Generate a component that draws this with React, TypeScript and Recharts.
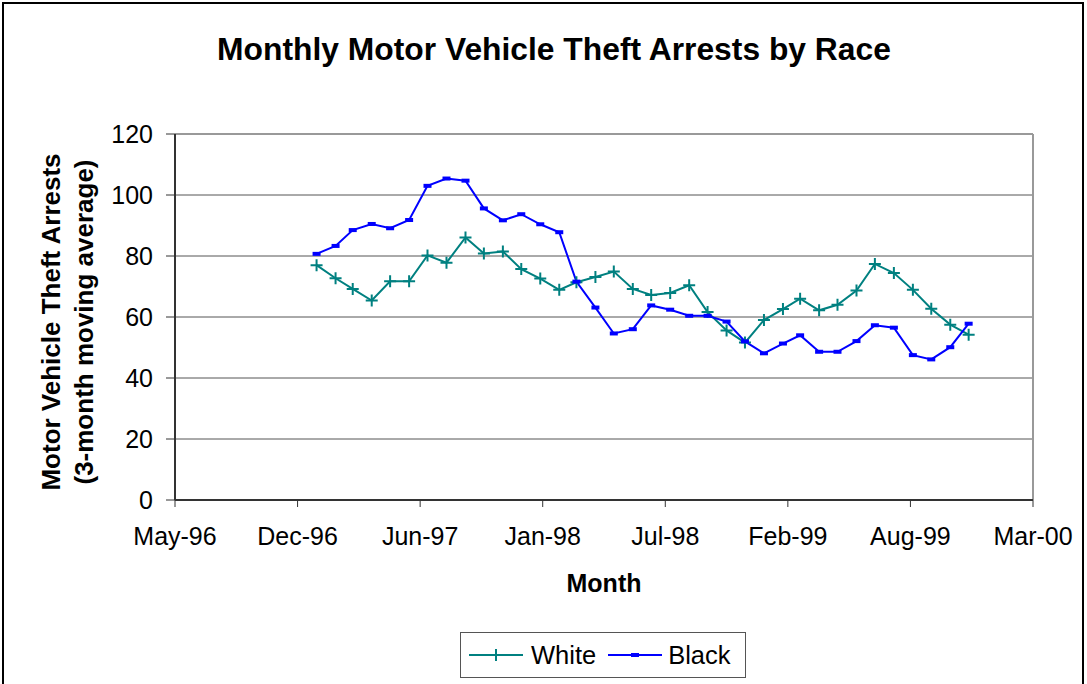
import { CartesianGrid, Legend, Line, LineChart, ReferenceLine, XAxis, YAxis } from "recharts";

// monthly points, 3-month moving average
const MONTHS = [
  "1997-01", "1997-02", "1997-03", "1997-04", "1997-05", "1997-06",
  "1997-07", "1997-08", "1997-09", "1997-10", "1997-11", "1997-12",
  "1998-01", "1998-02", "1998-03", "1998-04", "1998-05", "1998-06",
  "1998-07", "1998-08", "1998-09", "1998-10", "1998-11", "1998-12",
  "1999-01", "1999-02", "1999-03", "1999-04", "1999-05", "1999-06",
  "1999-07", "1999-08", "1999-09", "1999-10", "1999-11", "1999-12",
];

const WHITE = [
  77.0, 72.7, 69.2, 65.4, 71.7, 71.7, 80.2, 77.8, 86.1, 80.8, 81.5, 75.7,
  72.6, 68.9, 71.4, 73.1, 74.9, 69.2, 67.2, 67.9, 70.4, 61.6, 55.6, 51.6,
  59.0, 62.6, 66.0, 62.2, 64.0, 68.7, 77.4, 74.4, 68.9, 62.7, 57.5, 54.2,
];

const BLACK = [
  80.7, 83.3, 88.5, 90.5, 89.1, 91.8, 103.0, 105.4, 104.7, 95.6, 91.7, 93.7,
  90.4, 87.8, 71.6, 63.1, 54.6, 56.0, 63.8, 62.4, 60.4, 60.4, 58.5, 52.0,
  48.1, 51.3, 54.0, 48.6, 48.6, 52.1, 57.3, 56.5, 47.5, 46.1, 50.1, 57.8,
];

// excel date axis: 200-day major unit
const X_TICKS = [
  "1996-05-15", "1996-12-01", "1997-06-19", "1998-01-05",
  "1998-07-24", "1999-02-09", "1999-08-28", "2000-03-15",
];
const Y_TICKS = [0, 20, 40, 60, 80, 100, 120];
const MONTH_NAMES = ["Jan", "Feb", "Mar", "Apr", "May", "Jun", "Jul", "Aug", "Sep", "Oct", "Nov", "Dec"];

const FONT = '"Liberation Sans", Arial, sans-serif';
const TEAL = "#008080";
const BLUE = "#0000FF";

const toTime = (s: string) => {
  const [y, m, d] = s.split("-").map(Number);
  return Date.UTC(y, m - 1, d || 1);
};

const fmtMonth = (t: number) => {
  const dt = new Date(t);
  return `${MONTH_NAMES[dt.getUTCMonth()]}-${String(dt.getUTCFullYear()).slice(2)}`;
};

const data = MONTHS.map((m, i) => ({ t: toTime(m), white: WHITE[i], black: BLACK[i] }));
const xTicks = X_TICKS.map(toTime);
const xDomain = [xTicks[0], xTicks[xTicks.length - 1]];

function PlusDot(props: any) {
  const { cx, cy, index } = props;
  if (cx == null || cy == null) return <g key={`w${index}`} />;
  return (
    <path
      key={`w${index}`}
      d={`M${cx - 6},${cy}h12M${cx},${cy - 6}v12`}
      stroke={TEAL}
      strokeWidth={2}
      fill="none"
    />
  );
}

function DashDot(props: any) {
  const { cx, cy, index } = props;
  if (cx == null || cy == null) return <g key={`b${index}`} />;
  return <rect key={`b${index}`} x={cx - 4} y={cy - 2} width={8} height={4} fill={BLUE} />;
}

function YTitle(props: any) {
  const vb = props.viewBox || {};
  const cy = vb.y + vb.height / 2 + 5;
  return (
    <g fontFamily={FONT} fontWeight="bold" fontSize={26} fill="#000">
      <text x={60} y={cy} textAnchor="middle" transform={`rotate(-90, 60, ${cy})`}>
        Motor Vehicle Theft Arrests
      </text>
      <text x={93} y={cy} textAnchor="middle" transform={`rotate(-90, 93, ${cy})`}>
        (3-month moving average)
      </text>
    </g>
  );
}

function XTitle(props: any) {
  const vb = props.viewBox || {};
  return (
    <text
      x={vb.x + vb.width / 2}
      y={vb.y + 92}
      textAnchor="middle"
      fontFamily={FONT}
      fontWeight="bold"
      fontSize={25}
      fill="#000"
    >
      Month
    </text>
  );
}

function LegendBox() {
  return (
    <div
      style={{
        boxSizing: "border-box",
        width: 286,
        height: 46,
        border: "1px solid #555",
        background: "#fff",
        display: "flex",
        alignItems: "center",
        paddingLeft: 8,
        fontFamily: FONT,
        fontSize: 25.5,
        color: "#000",
      }}
    >
      <svg width={54} height={20}>
        <line x1={0} y1={10} x2={54} y2={10} stroke={TEAL} strokeWidth={2} />
        <path d="M27,4v12" stroke={TEAL} strokeWidth={2} />
      </svg>
      <span style={{ marginLeft: 8 }}>White</span>
      <svg width={54} height={20} style={{ marginLeft: 12 }}>
        <line x1={0} y1={10} x2={54} y2={10} stroke={BLUE} strokeWidth={2} />
        <rect x={23} y={8} width={8} height={4} fill={BLUE} />
      </svg>
      <span style={{ marginLeft: 6 }}>Black</span>
    </div>
  );
}

export default function App() {
  return (
    <div style={{ position: "relative", width: 1087, height: 684, overflow: "hidden", background: "#fff" }}>
      <style>{"body{margin:0}"}</style>
      <div
        style={{
          position: "absolute",
          left: 2,
          top: 2,
          width: 1082,
          height: 720,
          border: "2px solid #000",
          boxSizing: "border-box",
        }}
      />
      <div style={{ position: "absolute", left: 0, top: 0 }}>
        <LineChart
          width={1087}
          height={684}
          data={data}
          margin={{ top: 134, right: 54, bottom: 144, left: 0 }}
        >
          <text
            x={554}
            y={60}
            textAnchor="middle"
            fontFamily={FONT}
            fontWeight="bold"
            fontSize={31.8}
            fill="#000"
          >
            Monthly Motor Vehicle Theft Arrests by Race
          </text>
          <CartesianGrid vertical={false} stroke="#555" strokeWidth={1} />
          <XAxis
            type="number"
            dataKey="t"
            domain={xDomain}
            ticks={xTicks}
            interval={0}
            tickFormatter={fmtMonth}
            height={40}
            tickSize={7}
            tickMargin={20}
            tick={{ fontFamily: FONT, fontSize: 25, fill: "#000" }}
            axisLine={{ stroke: "#333", strokeWidth: 2 }}
            tickLine={{ stroke: "#333" }}
            label={<XTitle />}
          />
          <YAxis
            domain={[0, 120]}
            ticks={Y_TICKS}
            interval={0}
            width={175}
            tickSize={9}
            tickMargin={13}
            tick={{ fontFamily: FONT, fontSize: 25, fill: "#000" }}
            axisLine={{ stroke: "#333", strokeWidth: 2 }}
            tickLine={{ stroke: "#333" }}
            label={<YTitle />}
          />
          <ReferenceLine x={xDomain[1]} stroke="#999" strokeWidth={2} />
          <ReferenceLine y={120} stroke="#999" strokeWidth={2} />
          <Line
            dataKey="white"
            name="White"
            stroke={TEAL}
            strokeWidth={2}
            dot={PlusDot}
            activeDot={false}
            isAnimationActive={false}
          />
          <Line
            dataKey="black"
            name="Black"
            stroke={BLUE}
            strokeWidth={2}
            dot={DashDot}
            activeDot={false}
            isAnimationActive={false}
          />
          <Legend
            layout="horizontal"
            verticalAlign="middle"
            align="center"
            content={<LegendBox />}
            wrapperStyle={{ top: 632, left: 460, width: 286, height: 46 }}
          />
        </LineChart>
      </div>
    </div>
  );
}
